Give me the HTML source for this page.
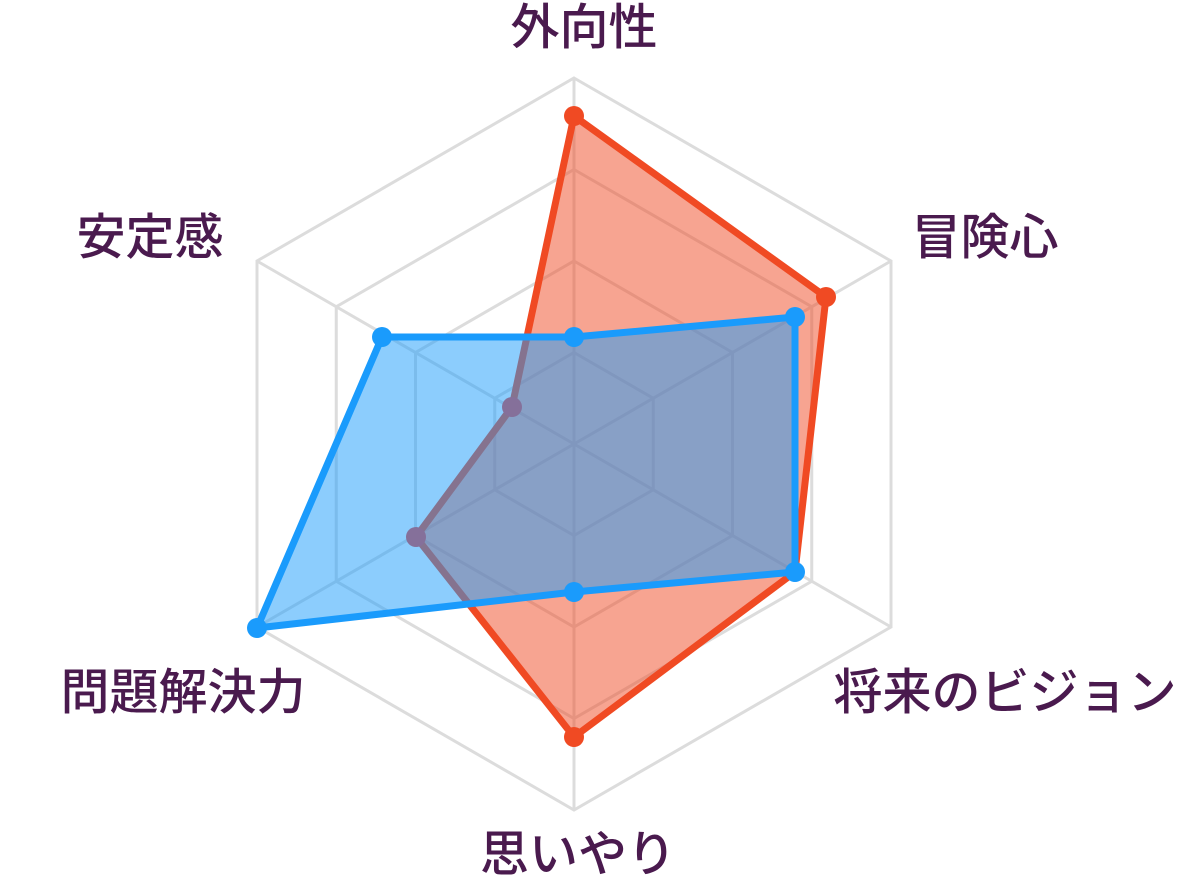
<!DOCTYPE html>
<html><head><meta charset="utf-8"><style>
html,body{margin:0;padding:0;background:#fff;}
svg{display:block;}
text{font-family:"Liberation Sans","Noto Sans CJK JP",sans-serif;font-size:49px;font-weight:500;fill:#4a1a4e;text-anchor:middle;dominant-baseline:central;}
</style></head><body>
<svg width="1192" height="891" viewBox="0 0 1192 891">
<g fill="none" stroke="#dcdcdc" stroke-width="3">
<polygon points="574,78 891,261 891,627 574,810 257,627 257,261"/>
<polygon points="574,169.5 811.75,306.75 811.75,581.25 574,718.5 336.25,581.25 336.25,306.75"/>
<polygon points="574,261 732.5,352.5 732.5,535.5 574,627 415.5,535.5 415.5,352.5"/>
<polygon points="574,352.5 653.25,398.25 653.25,489.75 574,535.5 494.75,489.75 494.75,398.25"/>
<line x1="574" y1="444" x2="574" y2="78"/>
<line x1="574" y1="444" x2="891" y2="261"/>
<line x1="574" y1="444" x2="891" y2="627"/>
<line x1="574" y1="444" x2="574" y2="810"/>
<line x1="574" y1="444" x2="257" y2="627"/>
<line x1="574" y1="444" x2="257" y2="261"/>
</g>
<polygon points="574,116 826,297 795,572 574,737 416,537 512,407" fill="rgba(240,74,35,0.5)" stroke="#f04a23" stroke-width="7" stroke-linejoin="round"/>
<polygon points="574,337 795,317 795,572 574,592 257,628 382,337" fill="rgba(26,155,252,0.5)" stroke="#1a9bfc" stroke-width="7" stroke-linejoin="round"/>
<g fill="#f04a23"><circle cx="574" cy="116" r="10"/><circle cx="826" cy="297" r="10"/><circle cx="574" cy="737" r="10"/></g>
<g fill="#85709a"><circle cx="416" cy="537" r="10"/><circle cx="512" cy="407" r="10"/></g>
<g fill="#1a9bfc"><circle cx="574" cy="337" r="10"/><circle cx="795" cy="317" r="10"/><circle cx="795" cy="572" r="10"/><circle cx="574" cy="592" r="10"/><circle cx="257" cy="628" r="10"/><circle cx="382" cy="337" r="10"/></g>
<text x="584" y="28">外向性</text>
<text x="985" y="238">冒険心</text>
<text x="1005" y="693">将来のビジョン</text>
<text x="578" y="855">思いやり</text>
<text x="183" y="693">問題解決力</text>
<text x="150" y="238">安定感</text>
</svg>
</body></html>
